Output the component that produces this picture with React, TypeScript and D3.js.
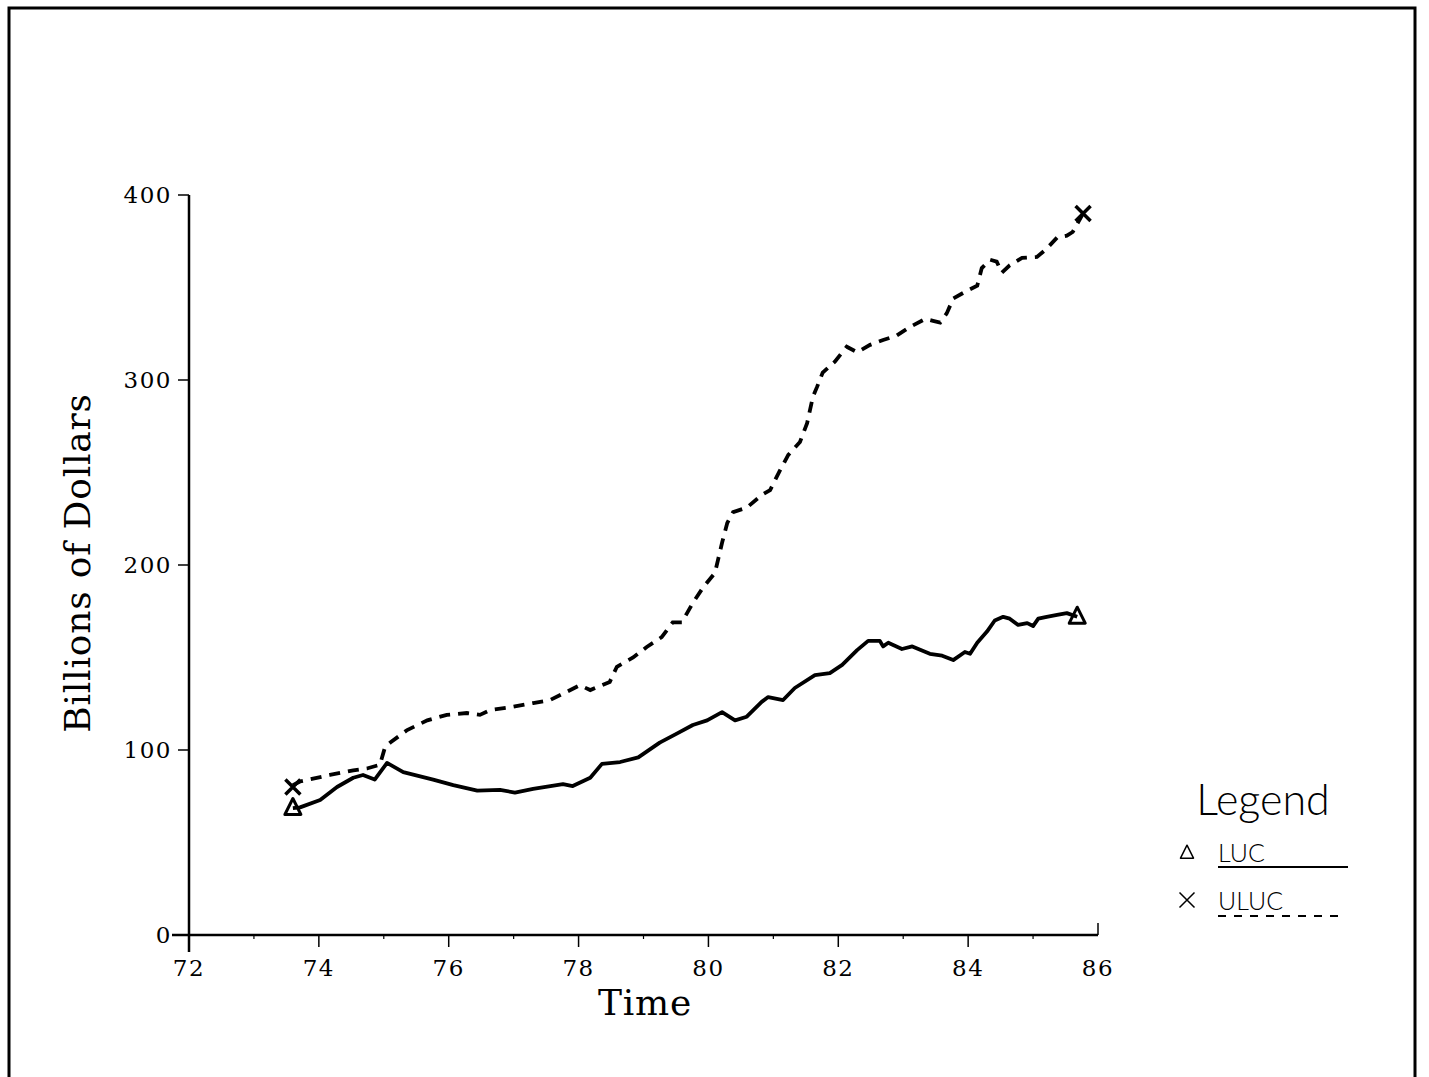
import React from "react";
import * as d3 from "d3";

// LUC series (solid line)
const lucTime = [
  73.6, 73.71, 74.02, 74.28, 74.53, 74.68, 74.86, 75.05, 75.3, 75.76, 76.07,
  76.44, 76.79, 77.02, 77.3, 77.76, 77.91, 78.18, 78.36, 78.64, 78.92, 79.25,
  79.52, 79.76, 79.98, 80.21, 80.41, 80.59, 80.82, 80.92, 81.15, 81.33, 81.64,
  81.87, 82.06, 82.29, 82.46, 82.64, 82.69, 82.77, 82.98, 83.14, 83.41, 83.6,
  83.77, 83.95, 84.03, 84.14, 84.29, 84.41, 84.54, 84.64, 84.77, 84.91, 85.0,
  85.08, 85.21, 85.37, 85.52, 85.68,
];
const lucValue = [
  68.6, 69, 73, 80, 85, 86.5, 84, 93, 88, 84, 81, 78, 78.4, 77, 79, 81.6, 80.5,
  85, 92.5, 93.5, 96, 104, 109, 113.5, 116, 120.5, 116, 118, 126, 128.6, 127,
  133.5, 140.5, 141.6, 146, 154, 159, 159, 156, 158, 154.6, 156, 152, 151,
  148.6, 153, 152, 158, 164, 170, 172, 171, 167.6, 168.6, 167, 171, 172, 173,
  174, 172,
];

// ULUC series (dashed line)
const ulucTime = [
  73.6, 73.71, 74.17, 74.53, 74.74, 74.94, 75.02, 75.1, 75.36, 75.67, 75.97,
  76.28, 76.48, 76.64, 76.94, 77.3, 77.56, 77.79, 78.02, 78.18, 78.48, 78.59,
  78.84, 79.05, 79.28, 79.45, 79.59, 79.76, 79.92, 80.1, 80.21, 80.29, 80.38,
  80.59, 80.82, 80.95, 81.1, 81.23, 81.41, 81.52, 81.61, 81.67, 81.76, 81.95,
  82.13, 82.29, 82.49, 82.69, 82.9, 83.1, 83.34, 83.46, 83.57, 83.67, 83.77,
  83.95, 84.14, 84.21, 84.34, 84.44, 84.52, 84.64, 84.83, 85.06, 85.21, 85.37,
  85.52, 85.61, 85.69, 85.77,
];
const ulucValue = [
  81, 83, 86.5, 89, 90, 92, 101.6, 104, 110.8, 116, 119, 120, 119, 121.6, 123,
  125.4, 127, 131, 135, 132.4, 136.8, 145, 150, 155.7, 161, 169, 169, 179.5,
  188, 195.7, 212, 222.7, 228.6, 231, 237.8, 240.5, 251, 259.5, 266.5, 276.7,
  291, 296, 304, 310, 318, 315, 319, 321.6, 324, 328.6, 333, 332, 331, 336, 344,
  347.6, 351, 360.5, 365, 364, 358, 362, 366, 366.5, 371, 377, 378, 380, 385,
  390,
];

const xTicks = [72, 74, 76, 78, 80, 82, 84, 86];
const xMinorTicks = [73, 75, 77, 79, 81, 83, 85];
const yTicks = [0, 100, 200, 300, 400];

const W = 1429;
const H = 1077;

const x = d3.scaleLinear().domain([72, 86]).range([189, 1098]);
const y = d3.scaleLinear().domain([0, 400]).range([935, 195]);

const line = d3
  .line<[number, number]>()
  .x((d) => x(d[0]))
  .y((d) => y(d[1]))
  .curve(d3.curveLinear);

const lucPoints: [number, number][] = lucTime.map((t, i) => [t, lucValue[i]]);
const ulucPoints: [number, number][] = ulucTime.map((t, i) => [t, ulucValue[i]]);

const serif = "'DejaVu Serif', serif";
const sans = "Lato, 'Liberation Sans', sans-serif";

const Triangle: React.FC<{ cx: number; cy: number; s: number; w: number }> = ({ cx, cy, s, w }) => (
  <path
    d={`M${cx},${cy - s * 0.6} L${cx + s / 2},${cy + s * 0.4} L${cx - s / 2},${cy + s * 0.4} Z`}
    fill="none"
    stroke="#000"
    strokeWidth={w}
    strokeLinejoin="round"
  />
);

const Cross: React.FC<{ cx: number; cy: number; s: number; w: number }> = ({ cx, cy, s, w }) => (
  <path
    d={`M${cx - s / 2},${cy - s / 2} L${cx + s / 2},${cy + s / 2} M${cx + s / 2},${cy - s / 2} L${cx - s / 2},${cy + s / 2}`}
    stroke="#000"
    strokeWidth={w}
  />
);

const App: React.FC = () => {
  const lucFirst = lucPoints[0];
  const lucLast = lucPoints[lucPoints.length - 1];
  const ulucFirst = ulucPoints[0];
  const ulucLast = ulucPoints[ulucPoints.length - 1];

  return (
    <div style={{ position: "absolute", left: 0, top: 0 }}>
      <svg width={W} height={H} style={{ display: "block", background: "#fff" }}>
        {/* outer frame */}
        <rect x={9} y={8} width={1406} height={1100} fill="none" stroke="#000" strokeWidth={3} />

        {/* axes */}
        <line x1={x(72)} x2={x(72)} y1={y(400)} y2={952} stroke="#000" strokeWidth={2.5} />
        <line x1={172} x2={x(86)} y1={y(0)} y2={y(0)} stroke="#000" strokeWidth={2.5} />

        {yTicks.map((t) => (
          <g key={`y${t}`}>
            <line x1={x(72) - 11} x2={x(72)} y1={y(t)} y2={y(t)} stroke="#000" strokeWidth={1.5} />
            <text
              x={x(72) - 17}
              y={y(t)}
              dy="0.36em"
              textAnchor="end"
              fontFamily={serif}
              fontSize={23}
              letterSpacing={1.5}
            >
              {t}
            </text>
          </g>
        ))}

        {xTicks.map((t) => (
          <g key={`x${t}`}>
            {t === 86 ? (
              <line x1={x(t)} x2={x(t)} y1={y(0)} y2={y(0) - 12} stroke="#000" strokeWidth={1.5} />
            ) : (
              <line x1={x(t)} x2={x(t)} y1={y(0)} y2={y(0) + 12} stroke="#000" strokeWidth={1.5} />
            )}
            <text x={x(t)} y={976} textAnchor="middle" fontFamily={serif} fontSize={23} letterSpacing={1.5}>
              {t}
            </text>
          </g>
        ))}
        {xMinorTicks.map((t) => (
          <line key={`m${t}`} x1={x(t)} x2={x(t)} y1={y(0)} y2={y(0) + 4} stroke="#000" strokeWidth={1.2} />
        ))}

        {/* axis titles */}
        <text
          transform={`translate(90,${(y(0) + y(400)) / 2 - 2}) rotate(-90)`}
          textAnchor="middle"
          fontFamily={serif}
          fontSize={36}
          letterSpacing={0.8}
        >
          Billions of Dollars
        </text>
        <text x={645} y={1015} textAnchor="middle" fontFamily={serif} fontSize={36} letterSpacing={0.8}>
          Time
        </text>

        {/* series */}
        <path d={line(ulucPoints) ?? ""} fill="none" stroke="#000" strokeWidth={3.8} strokeDasharray="11 8" />
        <path d={line(lucPoints) ?? ""} fill="none" stroke="#000" strokeWidth={3.8} strokeLinejoin="round" />

        {/* end markers */}
        <Cross cx={x(ulucFirst[0])} cy={y(80)} s={15} w={3.5} />
        <Cross cx={x(ulucLast[0])} cy={y(ulucLast[1])} s={15} w={3.5} />
        <Triangle cx={x(lucFirst[0])} cy={y(lucFirst[1])} s={16} w={3} />
        <Triangle cx={x(lucLast[0])} cy={y(lucLast[1])} s={16} w={3} />

        {/* legend */}
        <text x={1263} y={815} textAnchor="middle" fontFamily={sans} fontWeight={300} fontSize={43}>
          Legend
        </text>
        <Triangle cx={1187} cy={853} s={13} w={1.5} />
        <text x={1218} y={862} fontFamily={sans} fontWeight={300} fontSize={25}>
          LUC
        </text>
        <line x1={1218} x2={1348} y1={867} y2={867} stroke="#000" strokeWidth={2} />
        <Cross cx={1187} cy={900} s={15} w={1.5} />
        <text x={1218} y={910} fontFamily={sans} fontWeight={300} fontSize={25}>
          ULUC
        </text>
        <line x1={1218} x2={1343} y1={916} y2={916} stroke="#000" strokeWidth={2} strokeDasharray="8 8" />
      </svg>
    </div>
  );
};

export default App;
